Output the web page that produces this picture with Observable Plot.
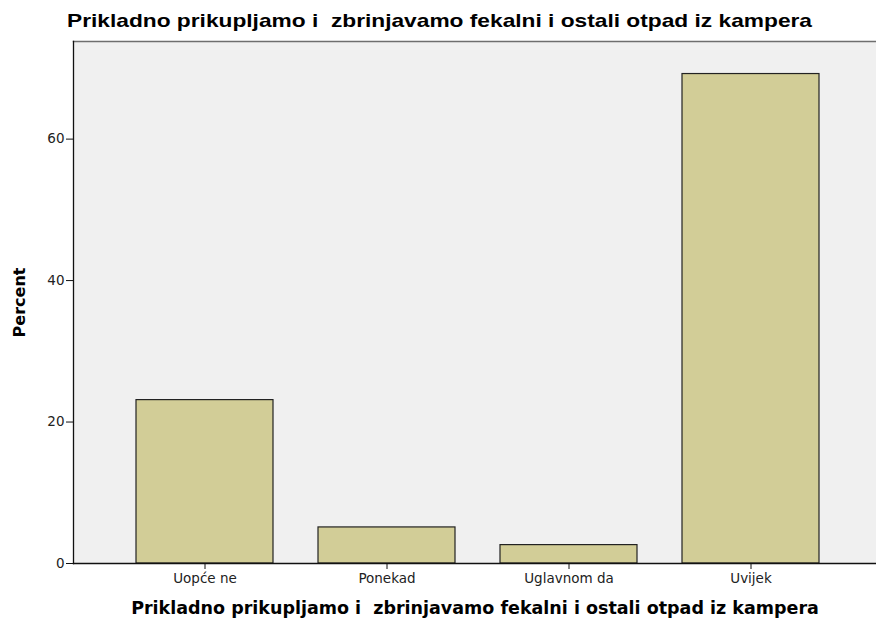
<!DOCTYPE html>
<html>
<head>
<meta charset="utf-8">
<script src="https://cdn.jsdelivr.net/npm/d3@7"></script>
<script src="https://cdn.jsdelivr.net/npm/@observablehq/plot@0.6"></script>
<style>
  html, body { margin: 0; padding: 0; background: #ffffff; }
  #wrap { width: 876px; height: 621px; position: relative; overflow: hidden; }
  #title { position: absolute; left: 0; top: 0; }
  #chart { position: absolute; left: 0; top: 40px; }
  #chart svg { font-family: "DejaVu Sans", sans-serif; }
  g[aria-label="x-axis label"] text { font-weight: bold; font-size: 17.5px; fill: #000; }
  g[aria-label="y-axis label"] text { font-weight: bold; font-size: 16px; fill: #000; }
  g[aria-label="x-axis tick label"] text, g[aria-label="y-axis tick label"] text { font-size: 13.5px; fill: #222; }
</style>
</head>
<body>
<div id="wrap">
  <svg id="title" width="876" height="40"><text id="titleText" x="67" y="27" textLength="745" lengthAdjust="spacingAndGlyphs" font-family="Liberation Sans, Arial, sans-serif" font-weight="bold" font-size="18.5" fill="#000" xml:space="preserve"></text></svg>
  <div id="chart"></div>
</div>
<script>
const categories = ["Uopće ne", "Ponekad", "Uglavnom da", "Uvijek"];
const percents = [23.1, 5.1, 2.6, 69.2];
const yTicks = [0, 20, 40, 60];
const chartTitle = "Prikladno prikupljamo i  zbrinjavamo fekalni i ostali otpad iz kampera";
const xTitle = "Prikladno prikupljamo i  zbrinjavamo fekalni i ostali otpad iz kampera";
const yTitle = "Percent";

document.getElementById("titleText").textContent = chartTitle;

const data = categories.map((c, i) => ({category: c, percent: percents[i]}));

const chart = Plot.plot({
  width: 876,
  height: 581,
  marginTop: 1,
  marginBottom: 58,
  marginLeft: 73,
  marginRight: 0,
  style: {background: "transparent", overflow: "visible"},
  x: {domain: categories, range: [90.5, 864], padding: 0.25},
  y: {domain: [0, 73.8]},
  marks: [
    Plot.frame({fill: "#f0f0f0", stroke: null}),
    Plot.frame({anchor: "top", stroke: "#6e6e6e", strokeWidth: 1.5}),
    Plot.barY(data, {x: "category", y: "percent", fill: "#d2cd97", stroke: "#222", strokeWidth: 1.2}),
    Plot.frame({anchor: "left", stroke: "#111", strokeWidth: 1.3}),
    Plot.frame({anchor: "bottom", stroke: "#111", strokeWidth: 1.3}),
    Plot.axisY({ticks: yTicks, tickSize: 7, tickPadding: 2, label: yTitle, labelAnchor: "center", labelArrow: "none", labelOffset: 60, stroke: "#111"}),
    Plot.axisX({tickSize: 6, tickPadding: 4, label: xTitle, labelAnchor: "center", labelArrow: "none", labelOffset: 50, stroke: "#111"})
  ]
});
document.getElementById("chart").appendChild(chart);
</script>
</body>
</html>
